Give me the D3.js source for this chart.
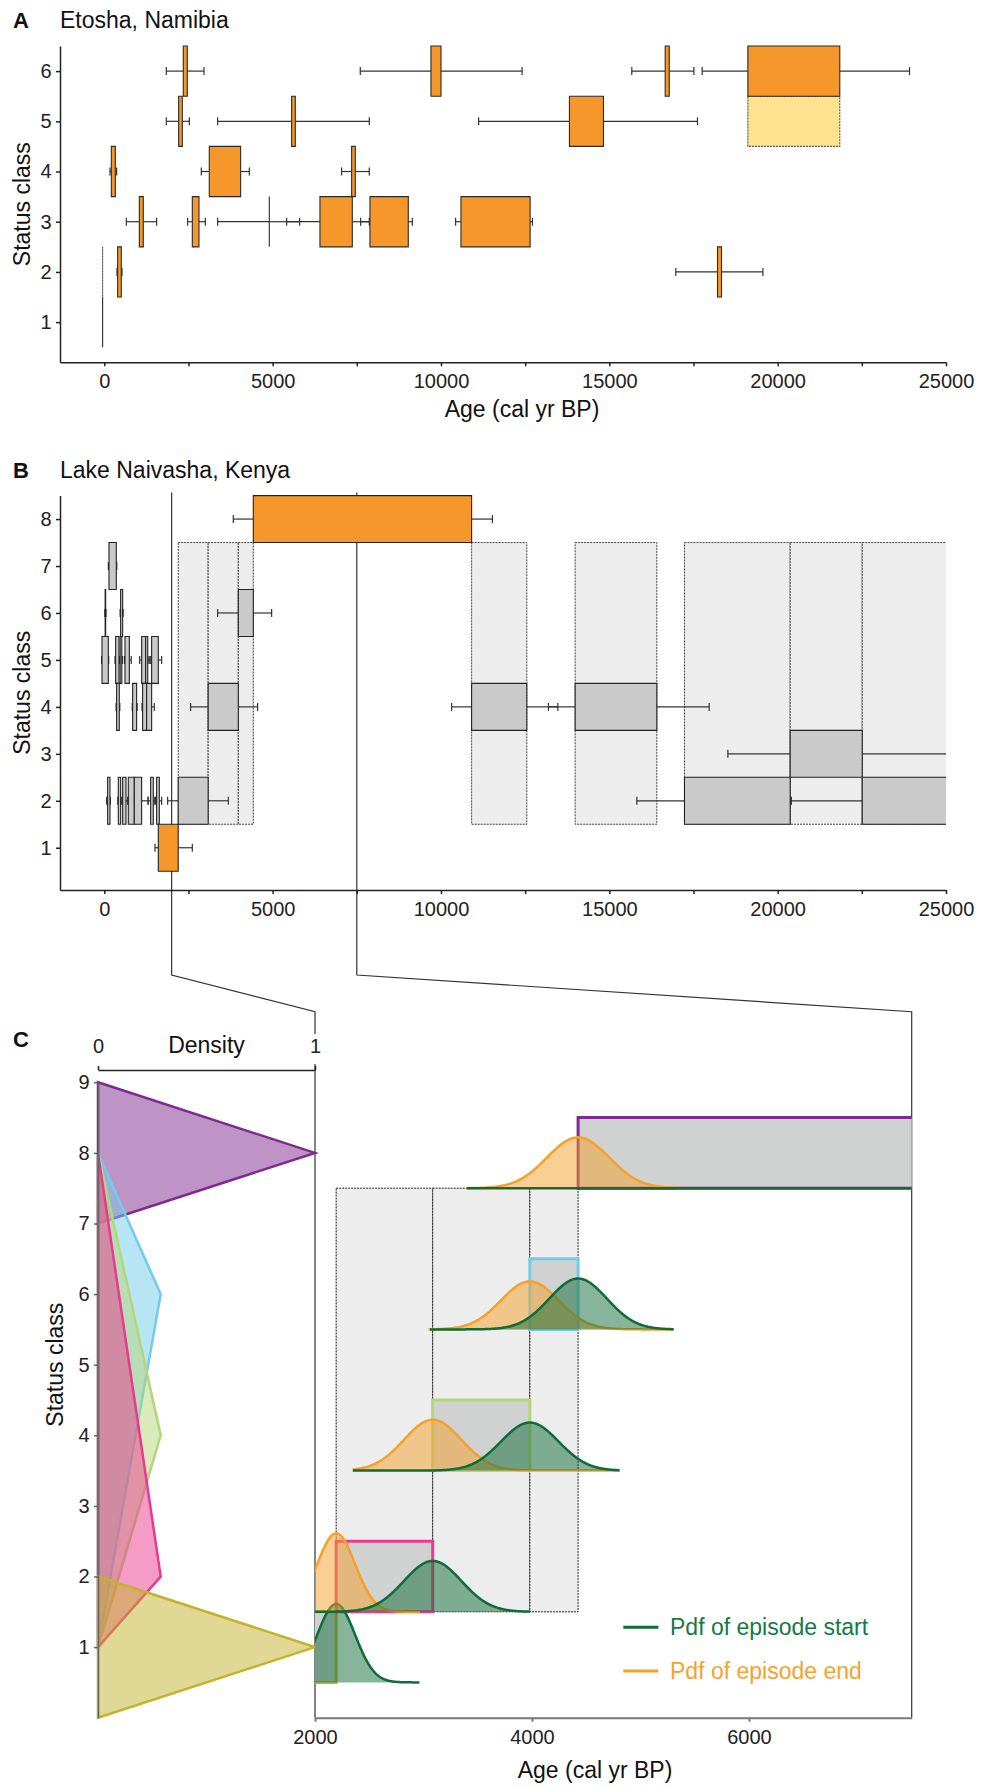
<!DOCTYPE html>
<html><head><meta charset="utf-8">
<script src="https://cdn.jsdelivr.net/npm/d3@7"></script>
<style>body{margin:0;background:#fff}</style>
</head><body>
<svg id="chart" width="981" height="1787"></svg>
<script>
// ---------------- DATA ----------------
const ageTicks = [0, 2500, 5000, 7500, 10000, 12500, 15000, 17500, 20000, 22500, 25000];
const ageTickLabels = [0, 5000, 10000, 15000, 20000, 25000];
const classTicksA = [1, 2, 3, 4, 5, 6];
const classTicksB = [1, 2, 3, 4, 5, 6, 7, 8];
const classTicksC = [1, 2, 3, 4, 5, 6, 7, 8, 9];
const ageTicksC = [2000, 4000, 6000];
const densityTicks = [0, 1];
const zoomWindow = [2000, 7500];

// Etosha episodes: [class, from, to, whiskerLow, whiskerHigh]
const etoshaEpisodes = [
  [6, 2346, 2465, 1841, 2960], [6, 9702, 10000, 7603, 12409], [6, 16660, 16780, 15668, 17511],
  [6, 19115, 21845, 17758, 23917],
  [5, 2208, 2317, 1841, 2525], [5, 5564, 5673, 3366, 7870], [5, 13815, 14826, 11118, 17618],
  [4, 208, 327, 168, 366], [4, 3118, 4049, 2881, 4307], [4, 7346, 7455, 7049, 7870],
  [3, 1040, 1158, 653, 1554], [3, 2614, 2812, 2475, 3000], [3, 4900, 4900, 3366, 5801],
  [3, 6405, 7366, 5415, 7870], [3, 7890, 9029, 7613, 9148], [3, 10593, 12648, 10435, 12717],
  [2, 396, 505, 376, 525], [2, 18213, 18332, 16975, 19561],
  [1, -50, -50, -50, -50]
];
// Etosha uncertain episodes (light): [class, from, to]
const etoshaUncertain = [[5, 19115, 21845], [2, -50, -50]];

// Naivasha highlighted (orange) episodes: [class, from, to, whiskerLow, whiskerHigh]
const naivashaOrange = [[8, 4425, 10910, 3831, 11528], [1, 1604, 2195, 1505, 2614]];
// Naivasha grey episodes
const naivashaGrey = [
  [2, 2195, 3085, 1881, 3683], [4, 3085, 3980, 2564, 4554], [6, 3980, 4425, 3366, 4970],
  [4, 10910, 12549, 10316, 13471], [4, 13985, 16411, 13192, 17966],
  [3, 20372, 22512, 18521, 26000], [2, 17232, 20372, 15817, 20402], [2, 22512, 26000, 20402, 26000],
  [7, 139, 356, 120, 370],
  [6, 25, 40, 15, 50], [6, 485, 545, 470, 560],
  [5, -69, 119, -80, 130], [5, 337, 436, 317, 460], [5, 470, 520, 450, 540], [5, 614, 743, 600, 800],
  [5, 1109, 1228, 1050, 1300], [5, 1228, 1290, 1228, 1350], [5, 1406, 1604, 1380, 1703],
  [4, 366, 445, 350, 460], [4, 842, 960, 830, 975], [4, 1138, 1257, 1120, 1270], [4, 1257, 1406, 1257, 1485],
  [2, 99, 168, 69, 180], [2, 416, 485, 400, 500], [2, 545, 644, 530, 700], [2, 713, 891, 700, 900],
  [2, 891, 1109, 891, 1300], [2, 1376, 1455, 1300, 1500], [2, 1554, 1634, 1520, 1703]
];
// Naivasha phases (light background spans, classes 1.5 - 7.5): [from, to]
const naivashaPhases = [[2195, 3085], [3085, 3980], [3980, 4425], [10910, 12549], [13985, 16411],
  [17232, 20372], [20372, 22512], [22512, 26000]];
const phaseClassRange = [1.5, 7.5];

// Panel C episodes: [class, from, to]
const zoomEpisodes = [[1, 1604, 2195], [2, 2195, 3085], [4, 3085, 3980], [6, 3980, 4425], [8, 4425, 10910]];
const zoomColors = ["#c3b22c", "#ea3a8e", "#b3d678", "#72cbea", "#7e2a8e"];
// class-density profiles: [density, class] vertices
const densityOlive = [[0, 2], [1, 1], [0, 0]];
const densityPink = [[0, 8], [0.289, 2], [0, 1]];
const densityGreen = [[0, 8], [0.289, 4], [0, 1]];
const densityCyan = [[0, 8], [0.289, 6], [0, 1]];
const densityPurple = [[0, 9], [1, 8], [0, 7]];
// pdfs: [class, mean, sd, peak (class units), from, to]
const startPdfs = [[1, 2195, 175, 1.11, 1400, 2962], [2, 3085, 265, 0.72, 2000, 3983],
  [4, 3980, 265, 0.68, 2348, 4807], [6, 4425, 265, 0.72, 3060, 5306], [8, 10910, 285, 0.72, 3399, 7600]];
const endPdfs = [[2, 2195, 175, 1.11, 1400, 2968], [4, 3085, 265, 0.72, 2348, 4807],
  [6, 3980, 265, 0.68, 3046, 5306], [8, 4425, 285, 0.72, 3399, 7600]];
const legendLabels = ["Pdf of episode start", "Pdf of episode end"];

// ---------------- DRAW ----------------
const FONT = '"Liberation Sans", Arial, Helvetica, sans-serif';
const svg = d3.select("#chart");
const defs = svg.append("defs");
const ORANGE = "#f5972b", LIGHTY = "#fde28f", GREYBOX = "#c9cac9", BG = "#ededed";
const GREEN = "#0f6b37", PORANGE = "#f6a02a";
const intFmt = d3.format("d");

const xA = d3.scaleLinear().domain([-1316, 25000]).range([60, 946]);
const yA = d3.scaleLinear().domain([0.2, 6.5]).range([362.3, 46]);
const xB = xA.copy();
const yB = d3.scaleLinear().domain([0.1, 8.5]).range([890, 495.6]);
const xC = d3.scaleLinear().domain(zoomWindow).range([315, 911.7]);
const yC = d3.scaleLinear().domain([0, 9]).range([1717.7, 1082.3]);
const xD = d3.scaleLinear().domain([0, 1]).range([98, 315]);

function clip(id, x, y, w, h) {
  defs.append("clipPath").attr("id", id).append("rect").attr("x", x).attr("y", y).attr("width", w).attr("height", h);
}
clip("clipA", 60, 30, 886, 340);
clip("clipB", 60, 480, 886, 420);
clip("clipC", 315, 1000, 596.7, 717.7);

function boxPath(x, y, x0, x1, c) {
  const a = x(x0), b = x(x1), t = y(c + 0.5), u = y(c - 0.5);
  return `M${a},${t}H${b}V${u}H${a}Z`;
}
function drawWhiskers(g, data, x, y) {
  data.forEach(d => {
    const [c, f, t, lo, hi] = d, yy = y(c);
    const segs = [];
    if (lo < f) segs.push([lo, f, true]);
    if (hi > t) segs.push([t, hi, false]);
    segs.forEach(s => {
      g.append("line").attr("x1", x(s[0])).attr("x2", x(s[1])).attr("y1", yy).attr("y2", yy)
        .attr("stroke", "#333").attr("stroke-width", 1.2);
      const cx = s[2] ? x(s[0]) : x(s[1]);
      g.append("line").attr("x1", cx).attr("x2", cx).attr("y1", yy - 4).attr("y2", yy + 4)
        .attr("stroke", "#333").attr("stroke-width", 1.2);
    });
  });
}
function drawBoxes(g, data, x, y, fill, stroke, dash) {
  g.selectAll(null).data(data).enter().append("path")
    .attr("d", d => boxPath(x, y, d[1], d[2], d[0]))
    .attr("fill", fill).attr("stroke", stroke).attr("stroke-width", 1.1)
    .attr("stroke-dasharray", dash || null);
}
function styleAxis(g, color, w) {
  g.select(".domain").attr("stroke", color).attr("stroke-width", w);
  g.selectAll(".tick line").attr("stroke", color).attr("stroke-width", w);
  g.selectAll(".tick text").attr("font-size", 20).attr("font-family", FONT).attr("fill", "#222");
}
function text(x, y, s, size, opts = {}) {
  const t = svg.append("text").attr("x", x).attr("y", y).text(s)
    .attr("font-size", size).attr("font-family", FONT).attr("fill", opts.fill || "#111")
    .attr("text-anchor", opts.anchor || "start").attr("font-weight", opts.bold ? "bold" : "normal");
  if (opts.rotate) t.attr("transform", `rotate(-90,${x},${y})`);
  return t;
}
const fmt = d => ageTickLabels.includes(d) ? String(d) : "";

// ---- Panel A ----
text(13, 28.3, "A", 22, { bold: true });
text(60, 28.3, "Etosha, Namibia", 23);
const gA = svg.append("g").attr("clip-path", "url(#clipA)");
drawWhiskers(gA, etoshaEpisodes, xA, yA);
drawBoxes(gA, etoshaUncertain, xA, yA, LIGHTY, "#555", "2,1");
drawBoxes(gA, etoshaEpisodes, xA, yA, ORANGE, "#2a2a2a");
const axA = svg.append("g").attr("transform", "translate(0,362.3)")
  .call(d3.axisBottom(xA).tickValues(ageTicks).tickFormat(fmt).tickSize(4).tickSizeOuter(0).tickPadding(7.5));
styleAxis(axA, "#222", 1.5);
const ayA = svg.append("g").attr("transform", "translate(60,0)")
  .call(d3.axisLeft(yA).tickValues(classTicksA).tickFormat(intFmt).tickSize(4).tickSizeOuter(0).tickPadding(4.5));
styleAxis(ayA, "#222", 1.5);
text(30, (yA.range()[0] + yA.range()[1]) / 2, "Status class", 23, { anchor: "middle", rotate: true });
text(522, 416.7, "Age (cal yr BP)", 23, { anchor: "middle" });

// ---- Panel B ----
text(13, 478.3, "B", 22, { bold: true });
text(60, 478.3, "Lake Naivasha, Kenya", 23);
// connector lines to panel C
const bendY = 975, topC = yC(10);
zoomWindow.forEach(v => {
  svg.append("path")
    .attr("d", `M${xB(v)},${yB(8.5) - 3}V${bendY}L${xC(v)},${topC}V${yC(0)}`)
    .attr("fill", "none").attr("stroke", "#333").attr("stroke-width", 1.2);
});
const gB = svg.append("g").attr("clip-path", "url(#clipB)");
gB.selectAll(null).data(naivashaPhases).enter().append("rect")
  .attr("x", d => xB(d[0])).attr("width", d => xB(d[1]) - xB(d[0]))
  .attr("y", yB(phaseClassRange[1])).attr("height", yB(phaseClassRange[0]) - yB(phaseClassRange[1]))
  .attr("fill", BG).attr("stroke", "#444").attr("stroke-width", 1).attr("stroke-dasharray", "2,1");
drawWhiskers(gB, naivashaGrey, xB, yB);
drawWhiskers(gB, naivashaOrange, xB, yB);
drawBoxes(gB, naivashaGrey, xB, yB, GREYBOX, "#222");
drawBoxes(gB, naivashaOrange, xB, yB, ORANGE, "#222");
const axB = svg.append("g").attr("transform", "translate(0,890)")
  .call(d3.axisBottom(xB).tickValues(ageTicks).tickFormat(fmt).tickSize(4).tickSizeOuter(0).tickPadding(7.5));
styleAxis(axB, "#222", 1.5);
const ayB = svg.append("g").attr("transform", "translate(60,0)")
  .call(d3.axisLeft(yB).tickValues(classTicksB).tickFormat(intFmt).tickSize(4).tickSizeOuter(0).tickPadding(4.5));
styleAxis(ayB, "#222", 1.5);
text(30, (yB.range()[0] + yB.range()[1]) / 2, "Status class", 23, { anchor: "middle", rotate: true });

// ---- Panel C ----
text(13, 1046.7, "C", 22, { bold: true });
// density profiles
const dLine = d3.line().x(d => xD(d[0])).y(d => yC(d[1]));
[[densityPurple, zoomColors[4]], [densityCyan, zoomColors[3]], [densityGreen, zoomColors[2]],
 [densityPink, zoomColors[1]], [densityOlive, zoomColors[0]]].forEach(([pts, col]) => {
  svg.append("path").attr("d", dLine(pts) + "Z").attr("fill", col).attr("fill-opacity", 0.5)
    .attr("stroke", col).attr("stroke-width", 2.5).attr("stroke-linejoin", "miter");
});
const ayC = svg.append("g").attr("transform", "translate(98,0)")
  .call(d3.axisLeft(yC).tickValues(classTicksC).tickFormat(intFmt).tickSize(4).tickSizeOuter(0).tickPadding(4.5));
styleAxis(ayC, "#666", 1.5);
text(63, (yC(1) + yC(9)) / 2, "Status class", 23, { anchor: "middle", rotate: true });
// density axis on top
const daY = 1070;
const adC = svg.append("g").attr("transform", `translate(0,${daY})`)
  .call(d3.axisTop(xD).tickValues(densityTicks).tickSize(4).tickSizeOuter(0).tickPadding(13).tickFormat(intFmt));
styleAxis(adC, "#222", 1.5);
adC.selectAll(".tick").filter(d => d === 1).insert("rect", "text")
  .attr("x", -7).attr("y", -36).attr("width", 14).attr("height", 30).attr("fill", "#fff");
text((xD(0) + xD(1)) / 2, 1053, "Density", 23, { anchor: "middle" });

// zoomed episodes
const gC = svg.append("g").attr("clip-path", "url(#clipC)");
gC.selectAll(null).data(naivashaPhases).enter().append("rect")
  .attr("x", d => xC(d[0])).attr("width", d => xC(d[1]) - xC(d[0]))
  .attr("y", yC(phaseClassRange[1])).attr("height", yC(phaseClassRange[0]) - yC(phaseClassRange[1]))
  .attr("fill", BG).attr("stroke", "#222").attr("stroke-width", 1).attr("stroke-dasharray", "2,1");
gC.selectAll(null).data(zoomEpisodes).enter().append("path")
  .attr("d", d => boxPath(xC, yC, d[1], d[2], d[0]))
  .attr("fill", "#d0d1d1").attr("stroke", (d, i) => zoomColors[i]).attr("stroke-width", 3);

function pdfPts(p) {
  const [c, m, sd, h, lo, hi] = p, n = 300, pts = [];
  for (let i = 0; i <= n; i++) {
    const x = lo + (hi - lo) * i / n;
    pts.push([x, c - 0.5 + h * Math.exp(-0.5 * ((x - m) / sd) ** 2), c - 0.5]);
  }
  return pts;
}
const pArea = d3.area().x(d => xC(d[0])).y0(d => yC(d[2])).y1(d => yC(d[1]));
const pLine = d3.line().x(d => xC(d[0])).y(d => yC(d[1]));
function drawPdf(p, col) {
  const pts = pdfPts(p);
  gC.append("path").attr("d", pArea(pts)).attr("fill", col).attr("fill-opacity", 0.5);
  gC.append("path").attr("d", pLine(pts)).attr("fill", "none").attr("stroke", col).attr("stroke-width", 2.5);
}
classTicksC.forEach(c => {
  endPdfs.filter(p => p[0] === c).forEach(p => drawPdf(p, PORANGE));
  startPdfs.filter(p => p[0] === c).forEach(p => drawPdf(p, GREEN));
});

const axC = svg.append("g").attr("transform", `translate(0,${yC(0)})`)
  .call(d3.axisBottom(xC).tickValues(ageTicksC).tickFormat(intFmt).tickSize(4).tickSizeOuter(0).tickPadding(7.8));
styleAxis(axC, "#777", 2);
text(595, 1778, "Age (cal yr BP)", 23, { anchor: "middle" });

// legend
[[GREEN, 1627.3], [PORANGE, 1671]].forEach(([col, y], i) => {
  svg.append("line").attr("x1", 623.3).attr("x2", 658.3).attr("y1", y).attr("y2", y)
    .attr("stroke", col).attr("stroke-width", 3);
  text(670, y + 8, legendLabels[i], 23, { fill: i === 0 ? "#137a44" : "#f7a22e" });
});
</script>
</body></html>
